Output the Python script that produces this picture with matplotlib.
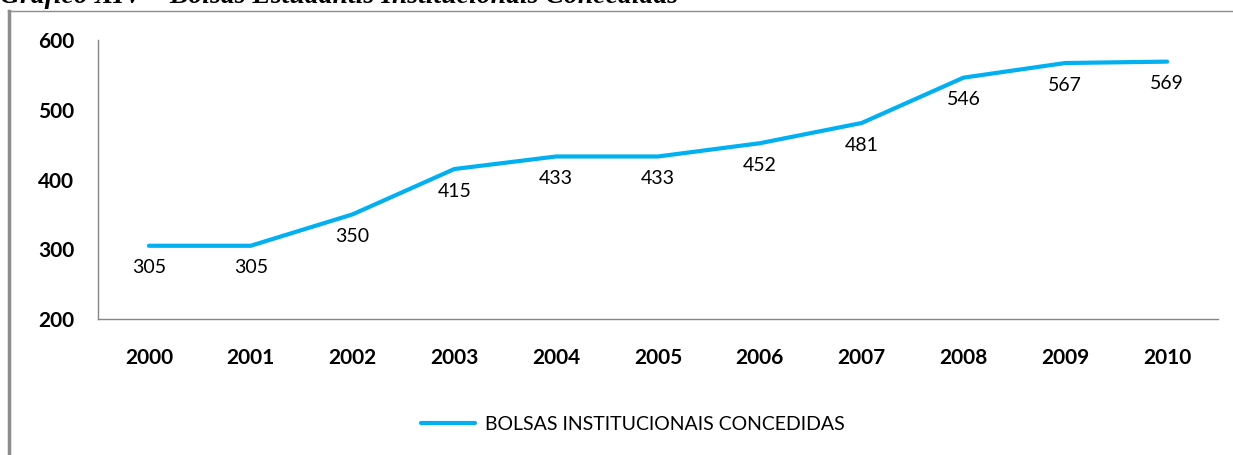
import matplotlib.pyplot as plt
from matplotlib.lines import Line2D

# dados do gráfico
anos = ['2000', '2001', '2002', '2003', '2004', '2005', '2006', '2007', '2008', '2009', '2010']
bolsas = [305, 305, 350, 415, 433, 433, 452, 481, 546, 567, 569]
serie = 'BOLSAS INSTITUCIONAIS CONCEDIDAS'
titulo = 'Gráfico XIV – Bolsas Estudantis Institucionais Concedidas'

plt.rcParams['font.family'] = ['Lato', 'DejaVu Sans']
cor = '#00B0F0'

fig = plt.figure(figsize=(12.33, 4.55), dpi=100)
ax = fig.add_axes([98 / 1233, 1 - 319 / 455, 1120 / 1233, 279 / 455])

x = range(len(anos))
ax.plot(x, bolsas, color=cor, linewidth=3.0, solid_capstyle='round', label=serie)
for i, v in zip(x, bolsas):
    ax.annotate(str(v), (i, v), xytext=(0, -16), textcoords='offset points',
                ha='center', va='center', fontsize=14, color='black')

ax.set_xlim(-0.5, len(anos) - 0.5)
ax.set_ylim(200, 600)
ax.set_yticks([200, 300, 400, 500, 600])
ax.set_xticks(list(x))
ax.set_xticklabels(anos)
ax.tick_params(axis='both', length=0, labelsize=15)
ax.tick_params(axis='x', pad=21)
ax.tick_params(axis='y', pad=17)
for lbl in ax.get_xticklabels() + ax.get_yticklabels():
    lbl.set_fontweight('bold')
for s in ['top', 'right']:
    ax.spines[s].set_visible(False)
for s in ['left', 'bottom']:
    ax.spines[s].set_color('#868686')
    ax.spines[s].set_linewidth(1)

ax.legend(loc='center', bbox_to_anchor=(633 / 1233, 1 - 424 / 455),
          bbox_transform=fig.transFigure, frameon=False, fontsize=14,
          handlelength=2.8, handletextpad=0.5)

# moldura do gráfico
fig.add_artist(Line2D([9 / 1233, 9 / 1233], [0, 1 - 11 / 455], color='#8c8c8c',
                      linewidth=2.5, transform=fig.transFigure))
fig.add_artist(Line2D([8 / 1233, 1], [1 - 11 / 455, 1 - 11 / 455], color='#8c8c8c',
                      linewidth=1, transform=fig.transFigure))

# título cortado no topo, como no original
fig.text(0.0, 1 - 3 / 455, titulo, family='Liberation Serif', fontweight='bold',
         style='italic', fontsize=20, ha='left', va='baseline')

fig.savefig('out.png', dpi=100)
